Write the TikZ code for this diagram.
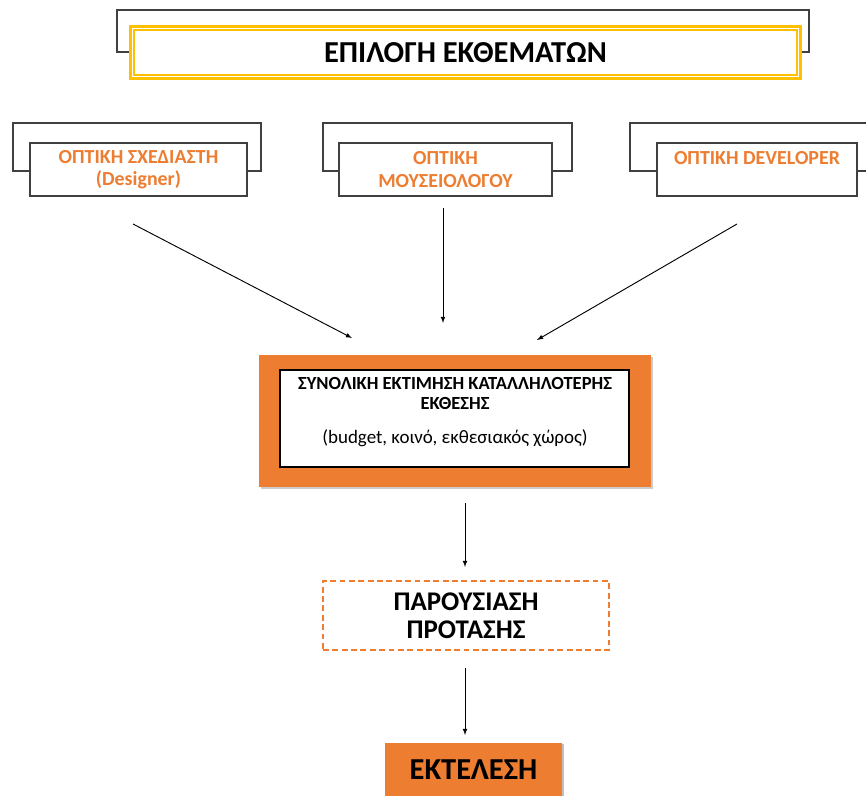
\documentclass[tikz,border=0pt]{standalone}
\usepackage{fontspec}
\setmainfont{Carlito}
\usetikzlibrary{arrows,positioning,shadows}
\definecolor{officeorange}{HTML}{ED7D31}
\definecolor{officegold}{HTML}{FFC000}

\begin{document}
\begin{tikzpicture}[x=0.03cm,y=-0.03cm,
                    backbox/.style={draw=black!75,line width=0.9pt},
                    viewbox/.style={rectangle,draw=black!75,line width=0.9pt,fill=white,
                                    text=officeorange,font=\bfseries\fontsize{17}{19}\selectfont,
                                    align=center,minimum height=1.59cm,inner sep=0pt},
                    every path/.style={>=latex}]
\useasboundingbox (0,0) rectangle (866,796);

\draw[backbox] (117,10) rectangle (809,52);
\node[draw=officegold,line width=2.2pt,double=white,double distance=1pt,fill=white,
      minimum width=20.0cm,minimum height=1.45cm,
      font=\bfseries\fontsize{26}{30}\selectfont] (epilogi) at (465.5,52.5) {ΕΠΙΛΟΓΗ ΕΚΘΕΜΑΤΩΝ};

\draw[backbox] (13,123) rectangle (261,171);
\node[viewbox,minimum width=6.51cm] (designer) at (138.5,169.5) {ΟΠΤΙΚΗ ΣΧΕΔΙΑΣΤΗ\\(Designer)};
\draw[backbox] (323,123) rectangle (572,171);
\node[viewbox,minimum width=6.39cm] (mouseio) at (445.5,169.5) {ΟΠΤΙΚΗ\\ΜΟΥΣΕΙΟΛΟΓΟΥ};
\draw[backbox] (866,123) -- (630,123) -- (630,171) -- (866,171);
\node[viewbox,minimum width=6cm] (developer) at (757,169.5) {ΟΠΤΙΚΗ DEVELOPER\\\mbox{}};

\node[fill=officeorange,minimum width=11.76cm,minimum height=3.96cm,
      drop shadow={shadow xshift=2pt,shadow yshift=-2pt,fill=black!20,opacity=1}] (ektimisi) at (455,421) {};
\node[draw=black,line width=1.2pt,fill=white,minimum width=10.47cm,minimum height=2.91cm] (ektimisiin) at (454.5,418.5) {};
\node[align=center,font=\bfseries\fontsize{15.8}{17}\selectfont] (ektimisitext) at (455,412)
  {ΣΥΝΟΛΙΚΗ ΕΚΤΙΜΗΣΗ ΚΑΤΑΛΛΗΛΟΤΕΡΗΣ\\ΕΚΘΕΣΗΣ\\[12pt]{\mdseries\fontsize{16.2}{17}\selectfont (budget, κοινό, εκθεσιακός χώρος)}};

\node[draw=officeorange,dash pattern=on 5pt off 3pt,line width=1pt,minimum width=8.58cm,minimum height=2.07cm,
      align=center,font=\bfseries\fontsize{23}{24}\selectfont] (protasi) at (466,615.5) {ΠΑΡΟΥΣΙΑΣΗ\\ΠΡΟΤΑΣΗΣ};

\node[fill=officeorange,minimum width=5.31cm,minimum height=1.59cm,font=\bfseries\fontsize{26}{28}\selectfont,
      drop shadow={shadow xshift=2pt,shadow yshift=-1pt,fill=black!25,opacity=1}] (ektelesi) at (473.5,769.5) {ΕΚΤΕΛΕΣΗ};

\coordinate (designerout) at (133,224);
\coordinate (mouseioout) at (443,208);
\coordinate (developerout) at (737,224);
\coordinate (ektimisiinl) at (352,338);
\coordinate (ektimisiinm) at (443,323);
\coordinate (ektimisiinr) at (537,340);
\coordinate (ektimisiout) at (465,503);
\coordinate (protasiin) at (465,567);
\coordinate (protasiout) at (465,668);
\coordinate (ektelesiin) at (465,735);

\draw[->,line width=0.8pt] (designerout) -- (ektimisiinl);
\draw[->,line width=0.8pt] (mouseioout) -- (ektimisiinm);
\draw[->,line width=0.8pt] (developerout) -- (ektimisiinr);
\draw[->,line width=0.8pt] (ektimisiout) -- (protasiin);
\draw[->,line width=0.8pt] (protasiout) -- (ektelesiin);

\end{tikzpicture}
\end{document}
